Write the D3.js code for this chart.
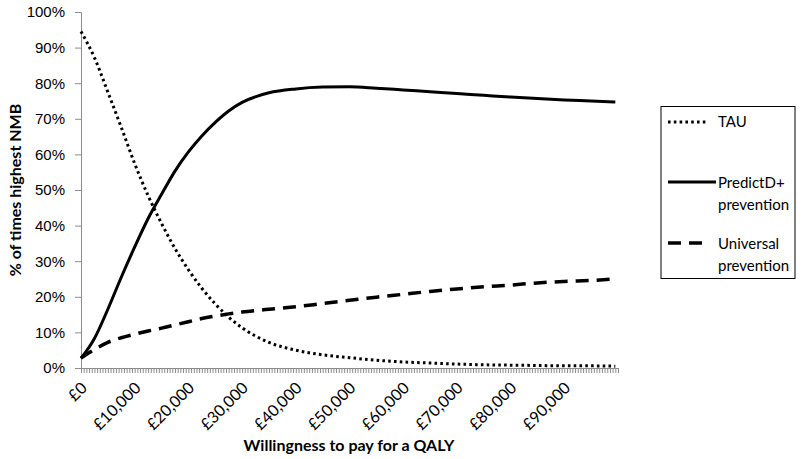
<!DOCTYPE html>
<html>
<head>
<meta charset="utf-8">
<script src="https://cdn.jsdelivr.net/npm/d3@7"></script>
<style>
  body { margin: 0; background: #fff; }
  svg { display: block; font-family: Lato, "Open Sans", sans-serif; }
</style>
</head>
<body>
<script>
'use strict';

// willingness to pay (GBP) at which values were read
const wtp = [0, 2500, 5000, 7500, 10000, 12500, 15000, 17500, 20000, 22500, 25000, 27500, 30000,
  35000, 40000, 45000, 50000, 55000, 60000, 65000, 70000, 75000, 80000, 85000, 90000, 95000, 99500];

// % of times highest NMB
const tau = [94.5, 87.2, 77.5, 67.6, 57.4, 48.4, 40.6, 33.6, 27.6, 22.4, 18, 14.3, 11.3,
  7.2, 5, 3.7, 2.9, 2.2, 1.7, 1.4, 1.1, 0.9, 0.8, 0.7, 0.6, 0.6, 0.5];
const predictD = [2.7, 8.3, 16.5, 25.5, 34, 42, 48.8, 55.3, 60.7, 65.2, 69, 72.2, 74.6,
  77.3, 78.4, 78.9, 79, 78.6, 78.1, 77.6, 77.1, 76.6, 76.1, 75.7, 75.3, 75, 74.7];
const universal = [2.8, 5.2, 7.2, 8.5, 9.5, 10.4, 11.2, 12.1, 13, 13.9, 14.6, 15.2, 15.7,
  16.5, 17.2, 18.1, 19, 19.9, 20.7, 21.5, 22.2, 22.8, 23.3, 23.9, 24.3, 24.6, 25];

const seriesNames = ["TAU", "PredictD+ prevention", "Universal prevention"];
const xTickValues = [0, 10000, 20000, 30000, 40000, 50000, 60000, 70000, 80000, 90000];
const yTickValues = [0, 10, 20, 30, 40, 50, 60, 70, 80, 90, 100];

const m = { width: 803, height: 459, left: 81, right: 618, top: 12, bottom: 368 };

const svg = d3.select('body')
  .append('svg')
  .attr('width', m.width)
  .attr('height', m.height);

svg.append('rect')
  .attr('width', m.width)
  .attr('height', m.height)
  .attr('fill', '#fff');

const xScale = d3.scaleLinear().domain([0, 100000]).range([m.left, m.right]);
const yScale = d3.scaleLinear().domain([0, 100]).range([m.bottom, m.top]);

// y axis
const yAxis = d3.axisLeft(yScale)
  .tickValues(yTickValues)
  .tickSize(6)
  .tickPadding(10)
  .tickFormat((d) => d + '%');
const gy = svg.append('g')
  .attr('transform', 'translate(' + m.left + ',0)')
  .call(yAxis);
gy.select('.domain').attr('stroke', '#8c8c8c');
gy.selectAll('.tick line').attr('stroke', '#8c8c8c');
gy.selectAll('.tick text')
  .attr('fill', '#000')
  .style('font-size', '15px');

// x axis: small category ticks every 500
const minorTicks = d3.range(0, 100001, 500);
const xAxis = d3.axisBottom(xScale)
  .tickValues(minorTicks)
  .tickSize(5)
  .tickFormat('');
const gx = svg.append('g')
  .attr('transform', 'translate(0,' + m.bottom + ')')
  .call(xAxis);
gx.select('.domain').attr('stroke', '#8c8c8c');
gx.selectAll('.tick line').attr('stroke', '#8c8c8c');

const fmt = d3.format(',');
svg.append('g')
  .selectAll('text')
  .data(xTickValues)
  .enter()
  .append('text')
  .attr('transform', (d) => 'translate(' + (xScale(d) + 7) + ',' + (m.bottom + 21) + ')rotate(-45)')
  .attr('text-anchor', 'end')
  .style('font-size', '16px')
  .text((d) => '£' + fmt(d));

// axis titles
svg.append('text')
  .attr('transform', 'translate(21,' + ((m.top + m.bottom) / 2) + ')rotate(-90)')
  .attr('text-anchor', 'middle')
  .style('font-size', '16px')
  .style('font-weight', 'bold')
  .text('% of times highest NMB');

svg.append('text')
  .attr('x', 349)
  .attr('y', 451)
  .attr('text-anchor', 'middle')
  .style('font-size', '16px')
  .style('font-weight', 'bold')
  .text('Willingness to pay for a QALY');

// lines
const styles = [
  { dash: '2.6,3.2', width: 3 },
  { dash: null, width: 3 },
  { dash: '13,8', width: 3.5 }
];
const allSeries = [tau, predictD, universal];

const line = d3.line()
  .x((d, i) => xScale(wtp[i]))
  .y((d) => yScale(d))
  .curve(d3.curveMonotoneX);

svg.append('g')
  .selectAll('path')
  .data(allSeries)
  .enter()
  .append('path')
  .attr('d', line)
  .attr('fill', 'none')
  .attr('stroke', '#000')
  .attr('stroke-width', (d, i) => styles[i].width)
  .attr('stroke-dasharray', (d, i) => styles[i].dash);

// legend
const legend = svg.append('g');
legend.append('rect')
  .attr('x', 661)
  .attr('y', 106.5)
  .attr('width', 134)
  .attr('height', 172)
  .attr('fill', '#fff')
  .attr('stroke', '#000')
  .attr('stroke-width', 1);

const legendY = [122, 182, 243];
const legendTextY = [127, 188, 249];
const legendLineEnd = [707, 716, 707];
seriesNames.forEach((name, i) => {
  legend.append('line')
    .attr('x1', 668)
    .attr('x2', legendLineEnd[i])
    .attr('y1', legendY[i])
    .attr('y2', legendY[i])
    .attr('stroke', '#000')
    .attr('stroke-width', styles[i].width)
    .attr('stroke-dasharray', styles[i].dash);
  const words = name.split(' ');
  const t = legend.append('text')
    .attr('x', 718)
    .attr('y', legendTextY[i])
    .style('font-size', '15px');
  words.forEach((w, j) => {
    t.append('tspan')
      .attr('x', 718)
      .attr('dy', j === 0 ? 0 : 22)
      .text(w);
  });
});
</script>
</body>
</html>
